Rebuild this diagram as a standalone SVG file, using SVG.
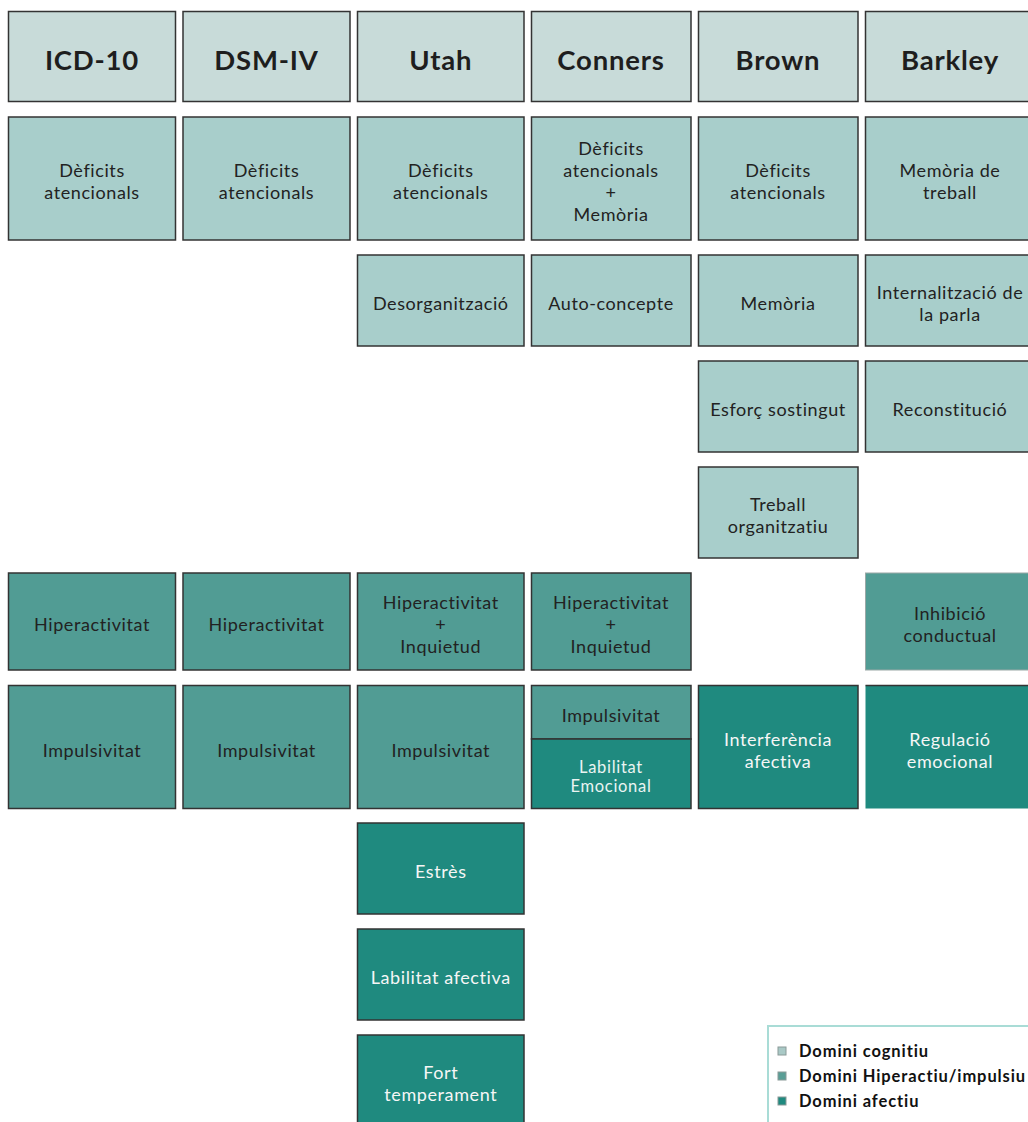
<svg xmlns="http://www.w3.org/2000/svg" width="1028" height="1122" viewBox="0 0 1028 1122">
<style>
.box{stroke:#333;stroke-width:1.5}
.hdr{fill:#c8dbd9}
.cog{fill:#a8cecb}
.hyp{fill:#519c94}
.aff{fill:#1f8a7f}
text{font-family:Lato,"Noto Sans","DejaVu Sans",sans-serif;text-anchor:middle}
.h{font-size:27.5px;font-weight:700;fill:#1e1e1e;letter-spacing:0.8px}
.t{font-size:18px;fill:#222;letter-spacing:0.6px}
.w{font-size:18px;fill:#f6f6f6;letter-spacing:0.6px}
.lw{font-size:16.5px;font-weight:400;fill:#eaf4f2;letter-spacing:0.7px}
.lg{font-size:16.5px;font-weight:700;fill:#111;text-anchor:start;letter-spacing:0.9px}
.sq{stroke:#8a9a98;stroke-width:1}
</style>
<rect width="1028" height="1122" fill="#fff"/>

<!-- headers -->
<g id="h-icd10"><rect class="box hdr" x="8.5" y="11.5" width="167" height="90"/><text class="h" x="92" y="70">ICD-10</text></g>
<g id="h-dsm4"><rect class="box hdr" x="183" y="11.5" width="167" height="90"/><text class="h" x="266.5" y="70">DSM-IV</text></g>
<g id="h-utah"><rect class="box hdr" x="357.5" y="11.5" width="166.5" height="90"/><text class="h" x="440.75" y="70">Utah</text></g>
<g id="h-conners"><rect class="box hdr" x="531.5" y="11.5" width="159.5" height="90"/><text class="h" x="611" y="70">Conners</text></g>
<g id="h-brown"><rect class="box hdr" x="698.5" y="11.5" width="159.5" height="90"/><text class="h" x="778" y="70">Brown</text></g>
<g id="h-barkley"><rect class="box hdr" x="865.5" y="11.5" width="170" height="90"/><text class="h" x="950" y="70">Barkley</text></g>

<!-- row 1 -->
<g id="icd-deficits"><rect class="box cog" x="8.5" y="117" width="167" height="123"/><text class="t" x="92" y="177">Dèficits</text><text class="t" x="92" y="199">atencionals</text></g>
<g id="dsm-deficits"><rect class="box cog" x="183" y="117" width="167" height="123"/><text class="t" x="266.5" y="177">Dèficits</text><text class="t" x="266.5" y="199">atencionals</text></g>
<g id="utah-deficits"><rect class="box cog" x="357.5" y="117" width="166.5" height="123"/><text class="t" x="440.75" y="177">Dèficits</text><text class="t" x="440.75" y="199">atencionals</text></g>
<g id="conners-deficits"><rect class="box cog" x="531.5" y="117" width="159.5" height="123"/><text class="t" x="611" y="155">Dèficits</text><text class="t" x="611" y="177">atencionals</text><text class="t" x="611" y="199">+</text><text class="t" x="611" y="221">Memòria</text></g>
<g id="brown-deficits"><rect class="box cog" x="698.5" y="117" width="159.5" height="123"/><text class="t" x="778" y="177">Dèficits</text><text class="t" x="778" y="199">atencionals</text></g>
<g id="barkley-memoria"><rect class="box cog" x="865.5" y="117" width="170" height="123"/><text class="t" x="950" y="177">Memòria de</text><text class="t" x="950" y="199">treball</text></g>

<!-- row 2 -->
<g id="utah-desorg"><rect class="box cog" x="357.5" y="255" width="166.5" height="91"/><text class="t" x="440.75" y="310">Desorganització</text></g>
<g id="conners-auto"><rect class="box cog" x="531.5" y="255" width="159.5" height="91"/><text class="t" x="611" y="310">Auto-concepte</text></g>
<g id="brown-memoria"><rect class="box cog" x="698.5" y="255" width="159.5" height="91"/><text class="t" x="778" y="310">Memòria</text></g>
<g id="barkley-intern"><rect class="box cog" x="865.5" y="255" width="170" height="91"/><text class="t" x="950" y="299">Internalització de</text><text class="t" x="950" y="321">la parla</text></g>

<!-- row 3 -->
<g id="brown-esforc"><rect class="box cog" x="698.5" y="361" width="159.5" height="91"/><text class="t" x="778" y="416">Esforç sostingut</text></g>
<g id="barkley-recon"><rect class="box cog" x="865.5" y="361" width="170" height="91"/><text class="t" x="950" y="416">Reconstitució</text></g>

<!-- row 4 -->
<g id="brown-treball"><rect class="box cog" x="698.5" y="467" width="159.5" height="91"/><text class="t" x="778" y="511">Treball</text><text class="t" x="778" y="533">organitzatiu</text></g>

<!-- row 5 -->
<g id="icd-hiper"><rect class="box hyp" x="8.5" y="573" width="167" height="97"/><text class="t" x="92" y="631">Hiperactivitat</text></g>
<g id="dsm-hiper"><rect class="box hyp" x="183" y="573" width="167" height="97"/><text class="t" x="266.5" y="631">Hiperactivitat</text></g>
<g id="utah-hiper"><rect class="box hyp" x="357.5" y="573" width="166.5" height="97"/><text class="t" x="440.75" y="609">Hiperactivitat</text><text class="t" x="440.75" y="631">+</text><text class="t" x="440.75" y="653">Inquietud</text></g>
<g id="conners-hiper"><rect class="box hyp" x="531.5" y="573" width="159.5" height="97"/><text class="t" x="611" y="609">Hiperactivitat</text><text class="t" x="611" y="631">+</text><text class="t" x="611" y="653">Inquietud</text></g>
<g id="barkley-inhib"><rect x="865.5" y="573" width="170" height="97" fill="#519c94" stroke="#9aa8a6" stroke-width="1"/><text class="t" x="950" y="620">Inhibició</text><text class="t" x="950" y="642">conductual</text></g>

<!-- row 6 -->
<g id="icd-impuls"><rect class="box hyp" x="8.5" y="685.5" width="167" height="123"/><text class="t" x="92" y="756.5">Impulsivitat</text></g>
<g id="dsm-impuls"><rect class="box hyp" x="183" y="685.5" width="167" height="123"/><text class="t" x="266.5" y="756.5">Impulsivitat</text></g>
<g id="utah-impuls"><rect class="box hyp" x="357.5" y="685.5" width="166.5" height="123"/><text class="t" x="440.75" y="756.5">Impulsivitat</text></g>
<g id="conners-impuls"><rect class="box hyp" x="531.5" y="685.5" width="159.5" height="53.5"/><text class="t" x="611" y="721.5">Impulsivitat</text></g>
<g id="conners-labilitat"><rect class="box aff" x="531.5" y="739" width="159.5" height="69.5"/><text class="lw" x="611" y="773">Labilitat</text><text class="lw" x="611" y="791.5">Emocional</text></g>
<g id="brown-interf"><rect class="box aff" x="698.5" y="685.5" width="159.5" height="123"/><text class="w" x="778" y="745.5">Interferència</text><text class="w" x="778" y="767.5">afectiva</text></g>
<g id="barkley-regul"><rect x="865.5" y="685.5" width="170" height="123" fill="#1f8a7f"/><line x1="865.5" y1="685.5" x2="1028" y2="685.5" stroke="#333" stroke-width="1.5"/><text class="w" x="950" y="745.5">Regulació</text><text class="w" x="950" y="767.5">emocional</text></g>

<!-- Utah affective -->
<g id="utah-estres"><rect class="box aff" x="357.5" y="823" width="166.5" height="91"/><text class="w" x="440.75" y="878">Estrès</text></g>
<g id="utah-labil"><rect class="box aff" x="357.5" y="929" width="166.5" height="91"/><text class="w" x="440.75" y="984">Labilitat afectiva</text></g>
<g id="utah-fort"><rect class="box aff" x="357.5" y="1035" width="166.5" height="100"/><text class="w" x="440.75" y="1079">Fort</text><text class="w" x="440.75" y="1101">temperament</text></g>

<!-- legend -->
<g id="legend">
<rect x="768" y="1026" width="280" height="110" fill="#fff" stroke="#a9dcd6" stroke-width="2"/>
<rect class="sq" x="778" y="1047" width="8" height="8" fill="#a9c9c6"/>
<text class="lg" x="799" y="1057">Domini cognitiu</text>
<rect class="sq" x="778" y="1072" width="8" height="8" fill="#5a9e96"/>
<text class="lg" x="799" y="1082">Domini Hiperactiu/impulsiu</text>
<rect class="sq" x="778" y="1097" width="8" height="8" fill="#1f8a7f"/>
<text class="lg" x="799" y="1107">Domini afectiu</text>
</g>
</svg>
